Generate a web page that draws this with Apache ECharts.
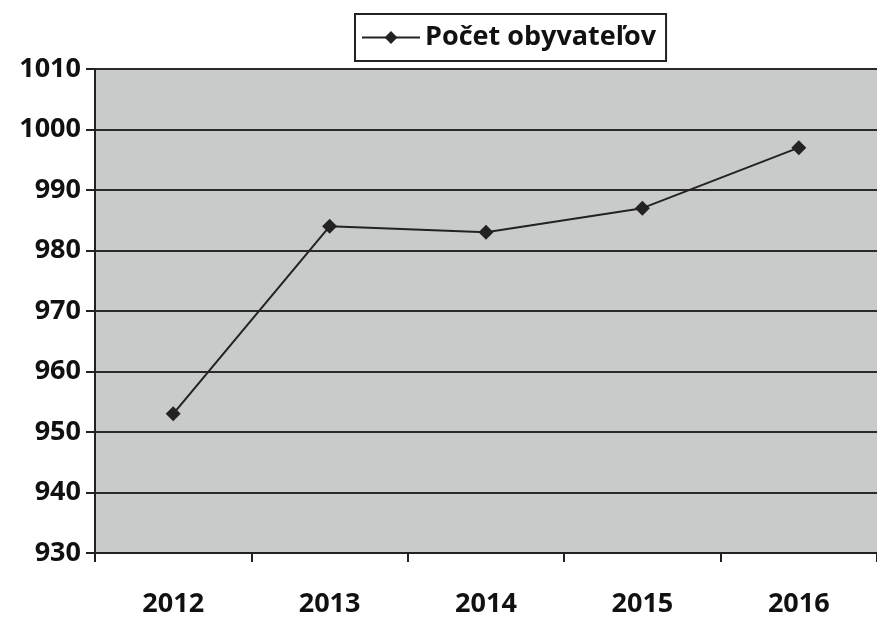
<!DOCTYPE html>
<html>
<head>
<meta charset="utf-8">
<script src="https://cdn.jsdelivr.net/npm/echarts@6/dist/echarts.min.js"></script>
<style>
  html, body { margin: 0; padding: 0; background: #fff; }
  #main { width: 877px; height: 618px; }
</style>
</head>
<body>
<div id="main"></div>
<script>
// data
const years = ['2012', '2013', '2014', '2015', '2016'];
const population = [953, 984, 983, 987, 997];
const seriesName = 'Počet obyvateľov';

const chart = echarts.init(document.getElementById('main'));
const font = '"Open Sans", "DejaVu Sans", sans-serif';

chart.setOption({
    backgroundColor: '#ffffff',
    animation: false,
    legend: {
        top: 14,
        left: 355,
        padding: [10, 10, 10, 6],
        borderColor: '#222',
        borderWidth: 2,
        backgroundColor: '#fff',
        itemWidth: 58,
        itemHeight: 16,
        itemGap: 4,
        textStyle: { color: '#111', fontFamily: font, fontWeight: 'bold', fontSize: 27 },
        data: [seriesName]
    },
    grid: { left: 95, right: -8, top: 69, bottom: 65, backgroundColor: '#c9cbcb', show: true, borderWidth: 0 },
    xAxis: {
        type: 'category',
        data: years,
        boundaryGap: true,
        axisLine: { lineStyle: { color: '#222', width: 2 } },
        axisTick: { show: true, length: 9, lineStyle: { color: '#222', width: 2 } },
        axisLabel: { color: '#111', fontFamily: font, fontWeight: 'bold', fontSize: 27, margin: 38 }
    },
    yAxis: {
        type: 'value',
        min: 930,
        max: 1010,
        interval: 10,
        axisLine: { show: true, lineStyle: { color: '#222', width: 2 } },
        axisTick: { show: true, length: 9, lineStyle: { color: '#222', width: 2 } },
        axisLabel: {
            color: '#111', fontFamily: font, fontWeight: 'bold', fontSize: 27, margin: 14,
            formatter: v => String(v)
        },
        splitLine: { show: true, lineStyle: { color: '#2a2a2a', width: 2 } }
    },
    series: [{
        name: seriesName,
        type: 'line',
        data: population,
        symbol: 'diamond',
        symbolSize: 15,
        lineStyle: { color: '#222', width: 2 },
        itemStyle: { color: '#222' }
    }]
});
</script>
</body>
</html>
